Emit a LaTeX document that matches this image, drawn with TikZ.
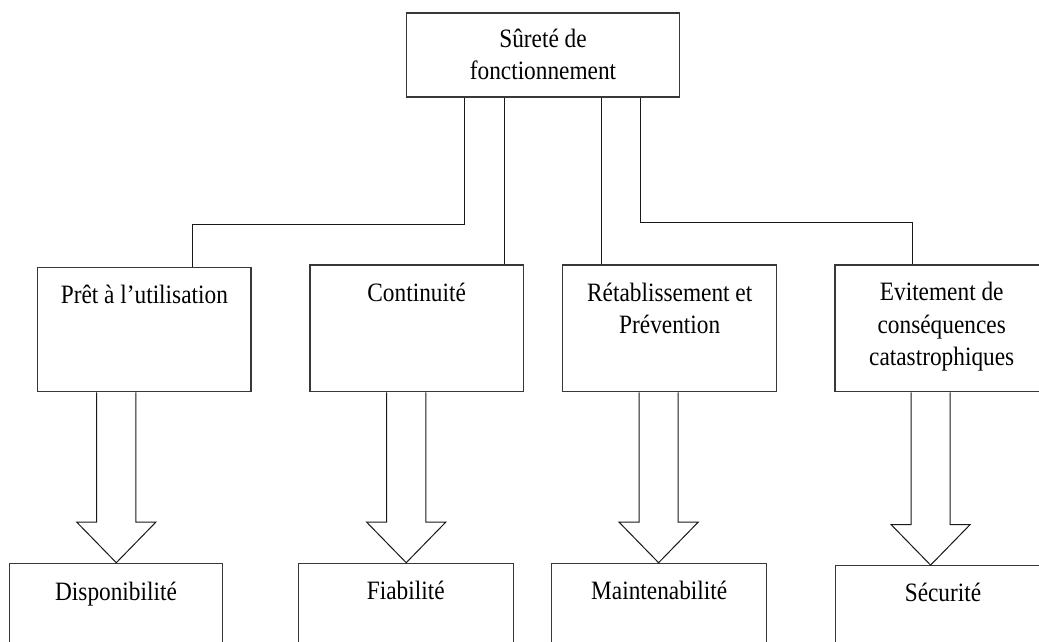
\documentclass[tikz,border=0pt]{standalone}
\usepackage{fontspec}
\setmainfont{Liberation Serif}[FakeStretch=0.88]
\usetikzlibrary{calc}

% hollow block arrow from the bottom of #1 to the top of #2, centred at x=#3
\newcommand\hollowarrow[3]{%
  \draw[blk] let \p1=(#1.south), \p2=(#2.north) in
    (#3pt-19.6pt,\y1) -- (#3pt-19.6pt,\y2+40.6pt) -- (#3pt-39.6pt,\y2+40.6pt)
    -- (#3pt,\y2) -- (#3pt+39.6pt,\y2+40.6pt) -- (#3pt+19.6pt,\y2+40.6pt)
    -- (#3pt+19.6pt,\y1);}

\begin{document}
\begin{tikzpicture}[x=1pt,y=-1pt,
  box/.style={draw=black!78,line width=1.2pt,rectangle,inner sep=0pt},
  lbl/.style={anchor=north,align=center,inner sep=0pt,
    font=\fontsize{26.5}{32.5}\selectfont},
  wire/.style={draw=black!90,line width=1pt},
  blk/.style={draw=black!90,line width=1pt,line join=miter}]
\useasboundingbox (0,0) rectangle (1039,641);
\fill[white] (0,0) rectangle (1039,641);
\clip (0,0) rectangle (1039,641);

% root
\node[box,minimum width=272.6pt,minimum height=84pt] (top) at (543,55) {};
\node[lbl] (ttop) at ([yshift=-16pt]top.north) {Sûreté de\\fonctionnement};

% second level
\node[box,minimum width=213.3pt,minimum height=124pt] (b1) at (144.35,329.7) {};
\node[box,minimum width=213.3pt,minimum height=126.7pt] (b2) at (416.65,328.35) {};
\node[box,minimum width=214pt,minimum height=126.7pt] (b3) at (669.7,328.35) {};
\node[box,minimum width=213.4pt,minimum height=126.7pt] (b4) at (941.7,328.35) {};
\node[lbl] (t1) at ([yshift=-18pt]b1.north) {Prêt à l’utilisation};
\node[lbl] (t2) at ([yshift=-18pt]b2.north) {Continuité};
\node[lbl] (t3) at ([yshift=-18pt]b3.north) {Rétablissement et\\Prévention};
\node[lbl] (t4) at ([yshift=-18pt]b4.north) {Evitement de\\conséquences\\catastrophiques};

% bottom level
\node[box,minimum width=213.4pt,minimum height=116.7pt] (d1) at (116,621.65) {};
\node[box,minimum width=215pt,minimum height=116.7pt] (d2) at (405.8,621.65) {};
\node[box,minimum width=215pt,minimum height=116.7pt] (d3) at (659.2,621.65) {};
\node[box,minimum width=214.6pt,minimum height=114.3pt] (d4) at (943,622.85) {};
\node[lbl] (u1) at ([yshift=-19pt]d1.north) {Disponibilité};
\node[lbl] (u2) at ([yshift=-18pt]d2.north) {Fiabilité};
\node[lbl] (u3) at ([yshift=-18.5pt]d3.north) {Maintenabilité};
\node[lbl] (u4) at ([yshift=-17.5pt]d4.north) {Sécurité};

% branch lines
\coordinate (s1) at ([xshift=-78.7pt]top.south);
\coordinate (s2) at ([xshift=-39pt]top.south);
\coordinate (s3) at ([xshift=58.7pt]top.south);
\coordinate (s4) at ([xshift=97.7pt]top.south);
\coordinate (e1) at ([xshift=48.4pt]b1.north);
\coordinate (e4) at ([xshift=-29.4pt]b4.north);
\draw[wire] (s1) |- ([yshift=42.7pt]e1) -- (e1);
\draw[wire] (s2) -- (s2 |- b2.north);
\draw[wire] (s3) -- (s3 |- b3.north);
\draw[wire] (s4) |- ([yshift=42pt]e4) -- (e4);

% block arrows
\hollowarrow{b1}{d1}{116.3}
\hollowarrow{b2}{d2}{406.2}
\hollowarrow{b3}{d3}{658.6}
\hollowarrow{b4}{d4}{930.6}
\end{tikzpicture}
\end{document}
